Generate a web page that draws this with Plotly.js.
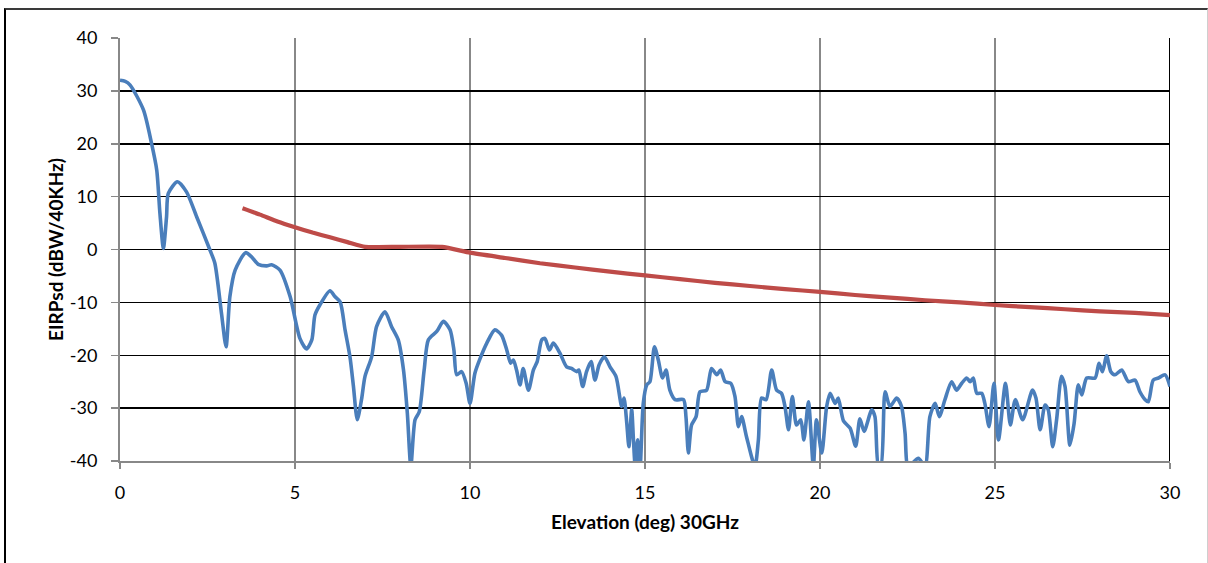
<!DOCTYPE html>
<html>
<head>
<meta charset="utf-8">
<script src="https://cdn.plot.ly/plotly-3.0.1.min.js"></script>
<style>
  html, body { margin: 0; padding: 0; background: #fff; overflow: hidden; }
  #frame { position: absolute; left: 4px; top: 8px; width: 1201px; height: 600px;
           border-left: 2px solid #000; border-top: 2px solid #3a3a3a; border-right: 1px solid #cfcfcf; }
  #chart { position: absolute; left: 0; top: 0; width: 1208px; height: 563px; }
</style>
</head>
<body>
<div id="frame"></div>
<div id="chart"></div>
<script>
// Measured pattern (blue)
const measX = [0, 0.15, 0.29, 0.67, 0.9, 1.05, 1.14, 1.24, 1.33, 1.38, 1.64, 1.9, 2.19, 2.57, 2.71, 2.9, 3.03, 3.14, 3.29, 3.59, 3.76, 3.95, 4.19, 4.33, 4.57, 4.86, 5.14, 5.33, 5.48, 5.57, 5.71, 6.0, 6.14, 6.29, 6.43, 6.57, 6.67, 6.78, 6.9, 7.0, 7.19, 7.33, 7.57, 7.76, 7.95, 8.1, 8.21, 8.31, 8.43, 8.55, 8.69, 8.81, 9.05, 9.24, 9.43, 9.54, 9.62, 9.76, 9.89, 10.0, 10.14, 10.29, 10.48, 10.71, 10.9, 11.05, 11.16, 11.24, 11.33, 11.43, 11.52, 11.67, 11.81, 11.92, 12.05, 12.14, 12.27, 12.38, 12.57, 12.76, 12.9, 13.05, 13.11, 13.22, 13.33, 13.46, 13.57, 13.69, 13.84, 14.0, 14.17, 14.29, 14.33, 14.4, 14.48, 14.54, 14.62, 14.67, 14.72, 14.79, 14.86, 14.95, 15.05, 15.14, 15.27, 15.38, 15.5, 15.6, 15.71, 15.86, 16.1, 16.17, 16.24, 16.33, 16.46, 16.57, 16.76, 16.9, 17.05, 17.16, 17.29, 17.45, 17.57, 17.67, 17.76, 17.9, 18.14, 18.24, 18.33, 18.46, 18.62, 18.76, 18.9, 19.0, 19.1, 19.21, 19.33, 19.45, 19.54, 19.67, 19.81, 19.9, 20.05, 20.19, 20.29, 20.43, 20.52, 20.67, 20.86, 21.02, 21.14, 21.26, 21.48, 21.57, 21.67, 21.74, 21.86, 22.0, 22.19, 22.33, 22.43, 22.52, 22.81, 23.0, 23.14, 23.29, 23.41, 23.57, 23.76, 23.9, 24.05, 24.19, 24.29, 24.38, 24.48, 24.62, 24.71, 24.83, 24.97, 25.1, 25.3, 25.44, 25.58, 25.79, 26.07, 26.17, 26.29, 26.43, 26.52, 26.65, 26.76, 26.9, 27.0, 27.14, 27.26, 27.38, 27.48, 27.62, 27.86, 27.97, 28.07, 28.19, 28.31, 28.43, 28.62, 28.81, 29.0, 29.14, 29.29, 29.38, 29.52, 29.67, 29.86, 30.0];
const measY = [32.0, 31.8, 31.1, 26.4, 20.1, 15.0, 6.9, 0.2, 6.2, 10.6, 12.8, 10.9, 6.2, -0.1, -2.6, -12.1, -18.4, -8.9, -3.9, -0.6, -1.4, -2.8, -3.1, -2.9, -3.9, -8.9, -16.8, -18.8, -17.1, -12.4, -10.5, -7.8, -8.9, -9.9, -15.2, -20.3, -25.9, -32.2, -28.4, -24.0, -20.3, -14.6, -11.8, -14.6, -17.1, -22.8, -31.0, -41.0, -32.2, -30.7, -22.8, -17.1, -15.5, -13.6, -15.2, -19.0, -23.7, -23.1, -25.3, -29.1, -23.4, -20.6, -17.7, -15.2, -16.2, -19.0, -21.5, -20.9, -22.8, -25.6, -22.5, -26.6, -22.8, -21.2, -17.1, -16.8, -19.0, -17.7, -19.6, -22.2, -22.5, -23.1, -22.8, -25.9, -23.1, -21.2, -24.7, -21.8, -20.3, -22.2, -24.0, -28.4, -29.7, -28.1, -32.9, -37.3, -30.3, -36.0, -41.0, -36.0, -41.0, -29.1, -25.6, -25.0, -18.4, -20.9, -24.3, -22.8, -26.6, -28.4, -28.4, -31.6, -38.5, -33.2, -31.6, -26.9, -26.6, -22.5, -23.7, -22.8, -25.0, -25.3, -27.8, -33.5, -31.6, -35.4, -41.0, -36.0, -28.1, -28.4, -22.8, -26.6, -27.2, -29.7, -34.1, -27.8, -33.2, -32.2, -36.0, -28.8, -41.0, -32.2, -38.5, -29.7, -27.2, -29.1, -28.1, -32.4, -33.8, -37.2, -32.0, -34.4, -30.3, -31.6, -41.0, -41.0, -26.9, -29.7, -28.1, -29.7, -34.7, -41.0, -39.5, -41.0, -31.6, -29.1, -31.6, -28.4, -25.0, -26.6, -25.3, -24.3, -25.0, -24.3, -27.2, -27.2, -29.1, -33.5, -25.3, -36.0, -25.3, -33.2, -28.4, -32.2, -26.6, -28.1, -34.1, -29.4, -30.3, -37.3, -32.2, -24.0, -25.9, -37.0, -32.9, -25.6, -27.5, -24.3, -24.3, -21.5, -23.1, -20.1, -23.1, -23.7, -22.8, -25.0, -24.7, -26.9, -28.4, -28.8, -24.7, -24.3, -23.7, -25.9];

// Mask (red)
const maskX = [3.5, 4, 4.5, 5, 5.5, 6, 6.5, 7, 8, 9.2, 10, 11, 12, 13, 14, 15, 16, 17, 18, 19, 20, 21, 22, 23, 24, 25, 26, 27, 28, 29, 30];
const maskY = [7.8, 6.6, 5.3, 4.2, 3.2, 2.3, 1.4, 0.5, 0.5, 0.5, -0.6, -1.6, -2.6, -3.4, -4.2, -4.9, -5.6, -6.3, -6.9, -7.5, -8.0, -8.6, -9.1, -9.6, -10.0, -10.5, -10.9, -11.3, -11.7, -12.0, -12.4];

const xTicks = [0, 5, 10, 15, 20, 25, 30];
const yTicks = [-40, -30, -20, -10, 0, 10, 20, 30, 40];

const font = "Lato, 'Open Sans', sans-serif";

const traces = [
  { x: measX, y: measY, type: 'scatter', mode: 'lines',
    line: { color: '#4A7EBB', width: 3.6, shape: 'spline', smoothing: 0.7 },
    hoverinfo: 'skip', showlegend: false },
  { x: maskX, y: maskY, type: 'scatter', mode: 'lines',
    line: { color: '#BE4B48', width: 4.2, shape: 'spline', smoothing: 0.5 },
    hoverinfo: 'skip', showlegend: false }
];

const layout = {
  width: 1208, height: 563,
  margin: { l: 120, r: 38, t: 38, b: 102 },
  paper_bgcolor: 'rgba(0,0,0,0)',
  plot_bgcolor: '#fff',
  showlegend: false,
  font: { family: font, size: 18, color: '#000' },
  xaxis: {
    range: [0, 30], tickvals: xTicks, ticktext: xTicks.map(String),
    showgrid: true, gridcolor: '#888', gridwidth: 1.5,
    showline: true, linecolor: '#888', linewidth: 2,
    ticks: 'outside', ticklen: 6, tickcolor: '#888', tickwidth: 1.5,
    ticklabelstandoff: 8,
    zeroline: false, fixedrange: true,
    tickfont: { family: font, size: 18, color: '#000' },
    title: { text: '<b>Elevation (deg) 30GHz</b>', font: { family: font, size: 19, color: '#000' }, standoff: 14 }
  },
  yaxis: {
    range: [-40, 40], tickvals: yTicks, ticktext: yTicks.map(String),
    showgrid: true, gridcolor: '#000', gridwidth: 1.5,
    showline: true, linecolor: '#888', linewidth: 2,
    ticks: 'outside', ticklen: 7, tickcolor: '#888', tickwidth: 1.5,
    ticklabelstandoff: 10,
    zeroline: false, fixedrange: true,
    tickfont: { family: font, size: 18, color: '#000' },
    title: { text: '<b>EIRPsd (dBW/40KHz)</b>', font: { family: font, size: 19, color: '#000' }, standoff: 1 }
  },
  shapes: [
    { type: 'line', xref: 'x', yref: 'y', x0: 30, x1: 30, y0: -40, y1: 40,
      line: { color: '#000', width: 2 }, layer: 'below' }
  ]
};

Plotly.newPlot('chart', traces, layout, { staticPlot: true, displayModeBar: false });
</script>
</body>
</html>
